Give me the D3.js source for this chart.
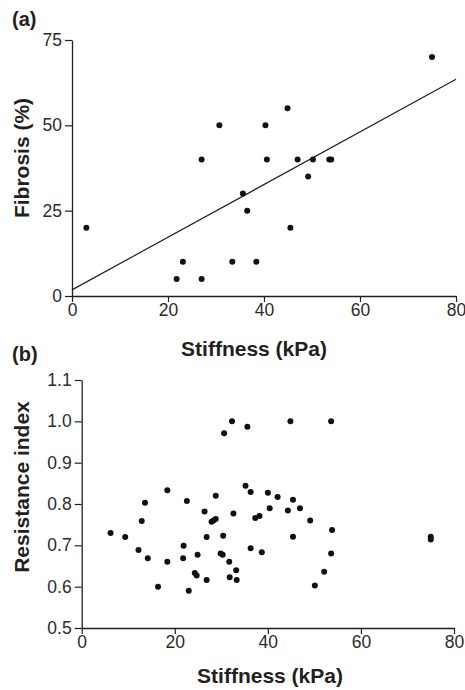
<!DOCTYPE html>
<html><head><meta charset="utf-8">
<script src="https://cdn.jsdelivr.net/npm/d3@7"></script>
<style>
body{margin:0;background:#fff;}
svg{display:block;font-family:"Liberation Sans",Arial,Helvetica,sans-serif;}
</style></head>
<body>
<svg id="c" width="465" height="690"></svg>
<script>
// Panel (a): Fibrosis (%) vs Stiffness (kPa)
const aStiff = [3, 21.8, 23.1, 27, 27, 30.7, 33.4, 35.6, 36.5, 38.4, 40.3, 40.6, 44.9, 45.5, 47, 49.2, 50.2, 53.6, 54, 75];
const aFib   = [20, 5, 10, 5, 40, 50, 10, 30, 25, 10, 50, 40, 55, 20, 40, 35, 40, 40, 40, 70];
const fitX = [0, 80];
const fitY = [1.8, 63.5];
const aXTicks = [0, 20, 40, 60, 80];
const aYTicks = [0, 25, 50, 75];

// Panel (b): Resistance index vs Stiffness (kPa)
const bStiff = [6.2, 9.35, 12.2, 12.9, 13.6, 14.2, 16.4, 18.4, 18.4, 21.8, 21.9, 22.6, 23.0, 24.3, 24.7, 24.9,
  26.4, 26.85, 26.85, 27.9, 28.3, 28.8, 28.8, 29.85, 30.3, 30.4, 30.6, 31.7, 31.8, 32.3, 32.6, 33.2, 33.3,
  35.2, 35.6, 36.3, 36.3, 37.3, 38.2, 38.7, 40.0, 40.4, 42.1, 44.3, 44.85, 45.4, 45.4, 46.9, 49.1, 50.1,
  52.1, 53.6, 53.6, 53.8, 75, 75];
const bRI = [0.73, 0.72, 0.689, 0.759, 0.803, 0.669, 0.600, 0.833, 0.66, 0.669, 0.699, 0.807, 0.590, 0.633, 0.627, 0.677,
  0.782, 0.616, 0.72, 0.757, 0.760, 0.764, 0.820, 0.680, 0.677, 0.723, 0.971, 0.66, 0.623, 1.0, 0.777, 0.640, 0.616,
  0.844, 0.987, 0.829, 0.693, 0.766, 0.771, 0.683, 0.827, 0.790, 0.817, 0.784, 1.0, 0.810, 0.721, 0.790, 0.760, 0.603,
  0.636, 1.0, 0.680, 0.737, 0.721, 0.714];
const bXTicks = [0, 20, 40, 60, 80];
const bYTicks = [0.5, 0.6, 0.7, 0.8, 0.9, 1.0, 1.1];

const ink = "#231f20";
const svg = d3.select("#c");

function panel(opts){
  const g = svg.append("g");
  const x = d3.scaleLinear().domain([0,80]).range(opts.xr);
  const y = d3.scaleLinear().domain(opts.yd).range(opts.yr);
  const xa = g.append("g").attr("transform",`translate(0,${opts.yr[0]})`)
    .call(d3.axisBottom(x).tickValues(opts.xt).tickSize(6).tickPadding(2).tickSizeOuter(0));
  const ya = g.append("g").attr("transform",`translate(${opts.xr[0]},0)`)
    .call(d3.axisLeft(y).tickValues(opts.yt).tickFormat(opts.yf).tickSize(7).tickPadding(3).tickSizeOuter(0));
  [xa,ya].forEach(a=>{
    a.select(".domain").attr("stroke",ink).attr("stroke-width",1.3);
    a.selectAll(".tick line").attr("stroke",ink).attr("stroke-width",1.2);
    a.selectAll("text").attr("fill","#2b2b2b").style("font-size","17.5px");
  });
  g.append("text").attr("x",opts.xtx).attr("y",opts.xty).attr("text-anchor","middle")
    .style("font-size","21px").style("font-weight","bold").attr("fill",ink).text("Stiffness (kPa)");
  g.append("text").attr("transform",`translate(${opts.ytx},${opts.yty}) rotate(-90)`).attr("text-anchor","middle")
    .style("font-size","21px").style("font-weight","bold").attr("fill",ink).text(opts.ylabel);
  g.append("text").attr("x",12).attr("y",opts.lty).style("font-size","20px").style("font-weight","bold")
    .attr("fill",ink).text(opts.letter);
  return {g,x,y};
}

const A = panel({xr:[72,456], yd:[0,75], yr:[296,40], xt:aXTicks, yt:aYTicks, yf:d3.format("d"),
  xtx:254, xty:356, ytx:29, yty:158, ylabel:"Fibrosis (%)", letter:"(a)", lty:26});
A.g.append("path").datum(fitX.map((v,i)=>[v,fitY[i]]))
  .attr("d", d3.line().x(d=>A.x(d[0])).y(d=>A.y(d[1])))
  .attr("stroke",ink).attr("stroke-width",1.2).attr("fill","none");
A.g.selectAll("circle").data(aStiff).join("circle")
  .attr("cx",d=>A.x(d)).attr("cy",(d,i)=>A.y(aFib[i])).attr("r",3).attr("fill","#111");

const B = panel({xr:[81.7,454], yd:[0.5,1.1], yr:[628,380], xt:bXTicks, yt:bYTicks, yf:d3.format(".1f"),
  xtx:270, xty:683, ytx:29, yty:487, ylabel:"Resistance index", letter:"(b)", lty:361});
B.g.selectAll("circle").data(bStiff).join("circle")
  .attr("cx",d=>B.x(d)).attr("cy",(d,i)=>B.y(bRI[i])).attr("r",3).attr("fill","#111");
</script>
</body></html>
